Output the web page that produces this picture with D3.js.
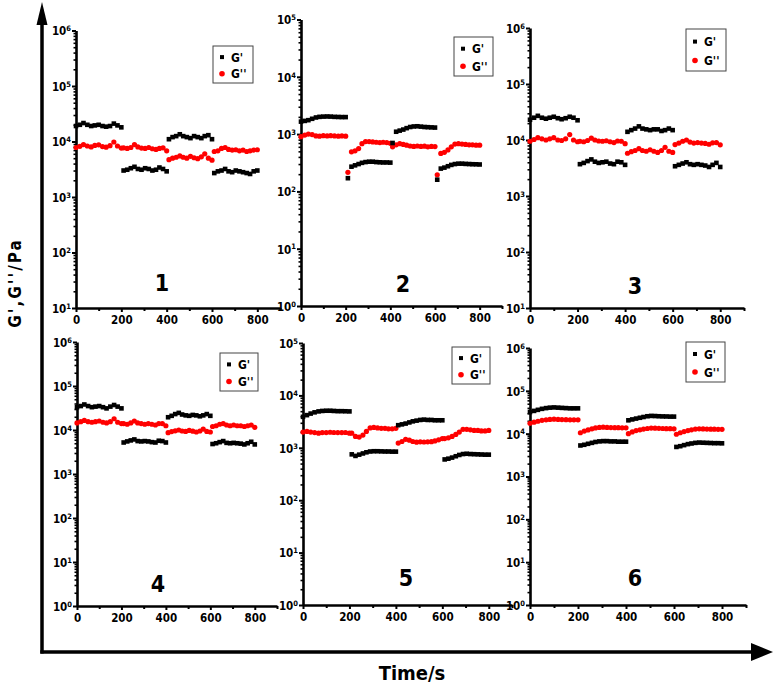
<!DOCTYPE html>
<html><head><meta charset="utf-8">
<script src="https://cdn.jsdelivr.net/npm/d3@7"></script>
<style>
body{margin:0;background:#fff}
text{font-family:'Liberation Sans Narrow','Arial Narrow','DejaVu Sans Condensed','Liberation Sans',Arial,sans-serif;font-weight:bold;fill:#000}
</style>
</head><body><svg id="c" width="774" height="686"></svg>
<script>
// ---- data ----
const times = [0,17,33,50,67,83,100,117,133,150,167,183,200,
  210,226,242,258,273,289,305,321,337,353,368,384,400,
  410,426,442,458,473,489,505,521,537,553,568,584,600,
  610,626,642,658,673,689,705,721,737,753,768,784,800];

const gp1 = [19000,20000,21500,20000,19000,19500,20000,19000,18500,19000,21000,19500,18000,
  3000,3100,3300,3500,3200,3100,3300,3200,3000,3100,3400,3200,2900,
  11000,12000,12500,13500,12500,12000,11500,12500,12000,11500,12500,13000,11000,
  2700,2900,3000,3200,2900,2800,3000,2900,2800,2700,2600,2900,3000];
const gpp1 = [7800,8200,8800,8300,8000,8500,8700,8100,7900,8400,9800,8300,7600,
  7700,7500,7800,8800,8000,7600,7500,7800,7400,7200,7500,7700,6800,
  4700,5000,5200,5500,5200,5000,5400,5100,4900,5300,6000,5000,4600,
  6600,6800,7500,7800,7200,7000,7100,6800,7000,6600,6800,7000,7100];

const gp2 = [1650,1700,1750,1850,1950,2000,2020,2030,2020,2000,1990,1980,1980,
  170,270,285,300,315,325,330,330,325,322,320,320,318,
  700,1100,1150,1200,1270,1330,1360,1370,1350,1330,1320,1310,1300,
  160,250,260,275,290,300,305,305,302,300,298,297,295];
const gpp2 = [900,960,1000,980,930,920,940,930,940,930,920,930,920,
  215,490,510,560,680,740,740,730,720,710,720,710,690,
  600,650,680,660,640,620,610,620,610,615,600,610,605,
  195,460,480,530,600,670,680,670,660,650,650,640,640];

const gp3 = [23000,25000,27000,25000,24000,25000,26000,24500,23500,24500,26000,25000,22500,
  3700,3900,4200,4500,4100,3900,4000,4100,3800,3700,4100,4000,3600,
  14000,15000,16000,17500,16000,15500,15000,15500,15500,14500,15000,16000,15000,
  3400,3600,3800,4000,3700,3600,3700,3600,3500,3300,3600,3900,3300];
const gpp3 = [9500,10200,11000,10500,10000,10500,11000,10000,9800,10500,12500,10000,9300,
  9500,9300,9800,10800,10000,9600,9500,9700,9300,9000,9600,9500,8600,
  5800,6200,6500,7000,6500,6300,6700,6300,6000,6500,7400,6300,6000,
  8300,8800,9500,10000,9200,8800,9000,8800,8700,8400,8900,9000,8200];

const gp4 = [33000,35000,38000,35000,33000,34000,35000,33000,31000,34000,37000,34000,31000,
  5200,5500,5800,6100,5600,5500,5600,5500,5300,5200,5700,5600,5200,
  19500,21000,23000,24500,22500,21500,21000,22000,21500,20500,21500,23000,21000,
  4800,5000,5300,5600,5100,5000,5100,5000,4900,4700,5000,5400,4700];
const gpp4 = [14500,15500,16500,15500,15000,15500,16000,15000,14500,15500,18000,15000,14000,
  14000,13500,14500,16000,14500,14000,13500,14000,13500,13000,14000,14000,12500,
  8700,9200,9600,10000,9500,9300,9800,9400,9000,9500,10500,9300,9000,
  12000,12500,13500,14000,13000,12500,13000,12500,12500,12000,12500,13000,11500];

const gp5 = [3900,4200,4500,4750,4950,5050,5100,5100,5050,5000,5000,4980,4950,
  750,700,740,780,820,850,860,860,855,850,850,845,845,
  2700,2800,2900,3050,3200,3300,3400,3450,3400,3400,3350,3350,3350,
  600,620,650,690,730,760,770,760,755,750,745,740,740];
const gpp5 = [2000,2050,2000,1950,1900,1950,1950,1980,1960,1950,1950,1960,1900,
  1900,1650,1600,1750,2050,2400,2450,2400,2350,2350,2300,2300,2350,
  1230,1320,1450,1400,1320,1280,1300,1290,1300,1310,1350,1420,1500,
  1500,1550,1650,1800,2000,2250,2250,2200,2150,2150,2100,2100,2150];

const gp6 = [32000,34000,36000,38000,39500,40500,41000,40500,40000,39500,39000,39000,39000,
  5300,5500,5800,6100,6400,6600,6700,6700,6600,6600,6500,6500,6500,
  20500,21500,22500,23500,24500,25500,26000,25800,25500,25300,25200,25000,25000,
  4900,5100,5400,5700,5900,6100,6200,6150,6100,6050,6000,6000,5950];
const gpp6 = [17500,18500,19500,20500,21000,21500,21800,21500,21300,21200,21000,21000,21000,
  10500,11500,12200,13000,13600,14000,14200,14000,13900,13800,13800,13700,13700,
  10000,11000,11800,12300,12800,13200,13500,13400,13300,13200,13100,13100,13000,
  9700,10500,11200,11800,12300,12800,13000,12900,12800,12700,12700,12600,12600];

const panelLabels = ["1","2","3","4","5","6"];
const yMinExp = [1,0,1,0,0,0];
const yMaxExp = [6,5,6,6,5,6];
const xTicks = [0,200,400,600,800];
const xMinorTicks = [100,300,500,700,900];
const xMax = 900;
const legendLabels = ["G'","G''"];
const xTitle = "Time/s";
const yTitle = "G',G''/Pa";

const storage = [gp1,gp2,gp3,gp4,gp5,gp6];
const loss = [gpp1,gpp2,gpp3,gpp4,gpp5,gpp6];

// ---- layout ----
const layout = [
  {x0:76,  x1:280, yt:30.5, yb:308, lg:[213,46,40,37], lb:[162,291]},
  {x0:301, x1:502, yt:19.5, yb:306, lg:[454,37,39,39], lb:[403,292]},
  {x0:530, x1:744, yt:28,   yb:308, lg:[686,29,40,42], lb:[635,294]},
  {x0:77,  x1:277, yt:342,  yb:606, lg:[220,353,38,38], lb:[158,592]},
  {x0:303, x1:512, yt:343,  yb:605, lg:[452,347,38,37], lb:[406,586]},
  {x0:530, x1:746, yt:348,  yb:605, lg:[686,342,39,40], lb:[635,586]}
];

const svg = d3.select("#c");

// main frame arrows
svg.append("line").attr("x1",42).attr("y1",653.5).attr("x2",42).attr("y2",20)
  .attr("stroke","#000").attr("stroke-width",3.5);
svg.append("path").attr("d","M42,2 L36.5,25 L47.5,25 Z").attr("fill","#000");
svg.append("line").attr("x1",40.3).attr("y1",652).attr("x2",755).attr("y2",652)
  .attr("stroke","#000").attr("stroke-width",3.5);
svg.append("path").attr("d","M773,652 L751,643 L751,661 Z").attr("fill","#000");

svg.append("text").attr("x",412).attr("y",680).attr("text-anchor","middle")
  .attr("font-size",20).text(xTitle);
svg.append("text").attr("transform","translate(21,283) rotate(-90)")
  .attr("text-anchor","middle").attr("font-size",17).attr("letter-spacing",2).text(yTitle);

layout.forEach((L,i)=>{
  const x = d3.scaleLinear().domain([0,xMax]).range([L.x0,L.x1]);
  const y = d3.scaleLog().domain([Math.pow(10,yMinExp[i]),Math.pow(10,yMaxExp[i])]).range([L.yb,L.yt]);
  const g = svg.append("g");

  // minor y ticks
  const minors=[];
  for(let e=yMinExp[i]; e<yMaxExp[i]; e++) for(let m=2;m<10;m++) minors.push(m*Math.pow(10,e));
  const ym = g.append("g").attr("transform",`translate(${L.x0},0)`)
    .call(d3.axisLeft(y).tickValues(minors).tickSize(2.5).tickFormat(""));
  ym.select(".domain").remove();
  ym.selectAll("line").attr("stroke-width",1.6);

  // major y ticks
  const majors=[];
  for(let e=yMinExp[i]; e<=yMaxExp[i]; e++) majors.push(Math.pow(10,e));
  const ya = g.append("g").attr("transform",`translate(${L.x0},0)`)
    .call(d3.axisLeft(y).tickValues(majors).tickSize(4).tickSizeOuter(0).tickFormat(""));
  ya.attr("font-family",null);
  ya.select(".domain").attr("stroke-width",2.6);
  ya.selectAll("line").attr("stroke-width",2);
  ya.selectAll(".tick").append("text")
    .attr("x",-5).attr("dy","0.38em").attr("text-anchor","end").attr("font-size",11.5)
    .attr("fill","#000")
    .each(function(d){
      const t=d3.select(this);
      t.append("tspan").text("10");
      t.append("tspan").attr("dy","-0.55em").attr("font-size",7.5).text(Math.round(Math.log10(d)));
    });

  // x axis
  const xm = g.append("g").attr("transform",`translate(0,${L.yb})`)
    .call(d3.axisBottom(x).tickValues(xMinorTicks).tickSize(3).tickFormat(""));
  xm.select(".domain").remove();
  xm.selectAll("line").attr("stroke-width",2);
  const xa = g.append("g").attr("transform",`translate(0,${L.yb})`)
    .call(d3.axisBottom(x).tickValues(xTicks).tickSize(4).tickSizeOuter(0).tickFormat(d=>d));
  xa.attr("font-family",null);
  xa.select(".domain").attr("stroke-width",2.6);
  xa.selectAll("line").attr("stroke-width",2);
  xa.selectAll("text").attr("font-size",11.5).attr("y",8).attr("fill","#000");

  // data
  const gs = storage[i], gl = loss[i];
  g.append("g").selectAll("circle").data(times.map((t,k)=>[t,gl[k]])).join("circle")
    .attr("cx",d=>x(d[0])).attr("cy",d=>y(d[1])).attr("r",2.6).attr("fill","#ff0000");
  g.append("g").selectAll("rect").data(times.map((t,k)=>[t,gs[k]])).join("rect")
    .attr("x",d=>x(d[0])-2.3).attr("y",d=>y(d[1])-2.3).attr("width",4.6).attr("height",4.6).attr("fill","#000");

  // panel number
  g.append("text").attr("x",L.lb[0]).attr("y",L.lb[1]).attr("text-anchor","middle")
    .attr("font-size",23).text(panelLabels[i]);

  // legend
  const [lx,ly,lw,lh]=L.lg;
  g.append("rect").attr("x",lx).attr("y",ly).attr("width",lw).attr("height",lh)
    .attr("fill","none").attr("stroke","#444").attr("stroke-width",1);
  const r1 = ly+lh*0.3, r2 = ly+lh*0.75;
  g.append("rect").attr("x",lx+9-2).attr("y",r1-2).attr("width",4).attr("height",4).attr("fill","#000");
  g.append("circle").attr("cx",lx+9).attr("cy",r2).attr("r",2.8).attr("fill","#ff0000");
  g.append("text").attr("x",lx+18).attr("y",r1+4.5).attr("font-size",12).text(legendLabels[0]);
  g.append("text").attr("x",lx+18).attr("y",r2+4.5).attr("font-size",12).text(legendLabels[1]);
});
</script>
</body></html>
